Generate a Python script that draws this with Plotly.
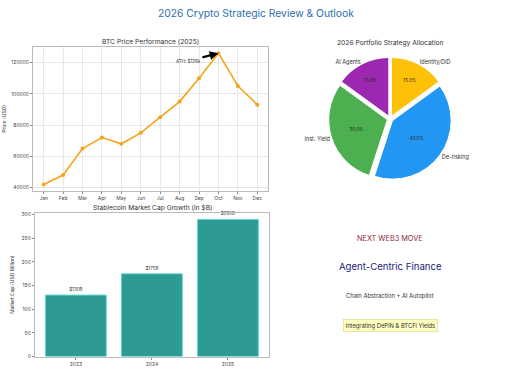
import plotly.graph_objects as go

FONT = "Inter"

# ---- data ----
months = ["Jan", "Feb", "Mar", "Apr", "May", "Jun", "Jul", "Aug", "Sep", "Oct", "Nov", "Dec"]
btc_price = [42000, 48000, 65000, 72000, 68000, 75000, 85000, 95000, 110000, 126000, 105000, 93000]
y_ticks = [40000, 60000, 80000, 100000, 120000]

years = ["2023", "2024", "2025"]
stable_cap = [130, 175, 290]
bar_labels = ["$130B", "$175B", "$290B"]
bar_ticks = [0, 50, 100, 150, 200, 250, 300]

pie_labels = ["Identity/DID", "De-risking", "Inst. Yield", "AI Agents"]
pie_values = [15, 40, 30, 15]
pie_colors = ["#FFC107", "#2196F3", "#4CAF50", "#9C27B0"]

fig = go.Figure()

# BTC line
fig.add_trace(go.Scatter(
    x=months, y=btc_price, mode="lines+markers",
    line=dict(color="#F5A31A", width=1.6),
    marker=dict(color="#F5A31A", size=4),
    xaxis="x", yaxis="y", showlegend=False, cliponaxis=False,
))

# Stablecoin bars
fig.add_trace(go.Bar(
    x=years, y=stable_cap, text=bar_labels, textposition="outside",
    textfont=dict(size=4.5, color="#333", family=FONT),
    marker=dict(color="#2E9A94", line=dict(color="#5FD6DA", width=1)),
    width=0.8, xaxis="x2", yaxis="y2", showlegend=False, cliponaxis=False,
))

pie_domain = dict(x=[0.636, 0.888], y=[0.528, 0.852])
# Pie with percentages
fig.add_trace(go.Pie(
    labels=pie_labels, values=pie_values, sort=False, direction="clockwise", rotation=0,
    marker=dict(colors=pie_colors, line=dict(color="white", width=1)),
    pull=[0.05] * 4, textinfo="percent", texttemplate="%{percent:.1%}",
    textposition="inside", insidetextorientation="horizontal",
    textfont=dict(size=4.5, color="#222", family=FONT),
    domain=pie_domain, showlegend=False, hoverinfo="skip",
))
# Transparent overlay for outside labels
fig.add_trace(go.Pie(
    labels=pie_labels, values=pie_values, sort=False, direction="clockwise", rotation=0,
    marker=dict(colors=["rgba(0,0,0,0)"] * 4, line=dict(width=0)),
    pull=[0.05] * 4, textinfo="label", textposition="outside",
    textfont=dict(size=5.5, color="#333", family=FONT),
    domain=pie_domain, showlegend=False, hoverinfo="skip",
))

axis_common = dict(
    showline=True, linecolor="#BBBBBB", linewidth=1, mirror=True,
    ticks="outside", ticklen=2, tickcolor="#888",
    tickfont=dict(size=5, color="#444", family=FONT),
)


def label(text, px, py, size, color, **kw):
    return dict(text=text, x=px / 512, y=1 - py / 384, xref="paper", yref="paper",
                xanchor="center", yanchor="middle", showarrow=False,
                font=dict(size=size, color=color, family=FONT), **kw)


fig.update_layout(
    width=512, height=384,
    margin=dict(l=0, r=0, t=0, b=0),
    paper_bgcolor="white", plot_bgcolor="white",
    font=dict(family=FONT, color="#333"),
    xaxis=dict(domain=[0.0645, 0.5234], anchor="y", range=[-0.55, 11.55],
               showgrid=True, gridcolor="#E6E6E6", gridwidth=0.6, **axis_common),
    yaxis=dict(domain=[0.5, 0.88], anchor="x", range=[37800, 130200],
               tickvals=y_ticks, tickformat="d",
               showgrid=True, gridcolor="#E6E6E6", gridwidth=0.6,
               title=dict(text="Price (USD)", font=dict(size=5, color="#333", family=FONT), standoff=4),
               **axis_common),
    xaxis2=dict(domain=[0.068, 0.5254], anchor="y2", range=[-0.54, 2.54],
                showgrid=False, **axis_common),
    yaxis2=dict(domain=[0.0643, 0.4432], anchor="x2", range=[0, 304.5],
                tickvals=bar_ticks, showgrid=False,
                title=dict(text="Market Cap (USD Billion)", font=dict(size=5, color="#333", family=FONT), standoff=6),
                **axis_common),
    annotations=[
        label("2026 Crypto Strategic Review & Outlook", 256, 12, 10.3, "#2C6FAD"),
        label("BTC Price Performance (2025)", (33 + 268) / 2, 41, 6.7, "#333"),
        label("Stablecoin Market Cap Growth (in $B)", (35 + 269) / 2, 209, 6.7, "#333"),
        label("2026 Portfolio Strategy Allocation", 390, 42, 6.7, "#333"),
        dict(text="ATH: $126k", x="Oct", y=126000, xref="x", yref="y",
             ax=-30, ay=8, showarrow=True, arrowhead=2, arrowsize=0.8, arrowwidth=2.2,
             arrowcolor="black", font=dict(size=4.5, color="#333", family=FONT)),
        label("NEXT WEB3 MOVE", 390, 240, 7.3, "#8B2C3E"),
        label("Agent-Centric Finance", 390, 268, 9.6, "#1C1C7A"),
        label("Chain Abstraction + AI Autopilot", 390, 298, 5.8, "#333"),
        label("Integrating DePIN & BTCFi Yields", 390, 328, 5.8, "#333",
              bgcolor="#FFFFC2", bordercolor="#D8D48A", borderwidth=0.6, borderpad=2),
    ],
)

fig.write_html("out.html", config={"displayModeBar": False},
               post_script="document.body.style.margin='0';")
